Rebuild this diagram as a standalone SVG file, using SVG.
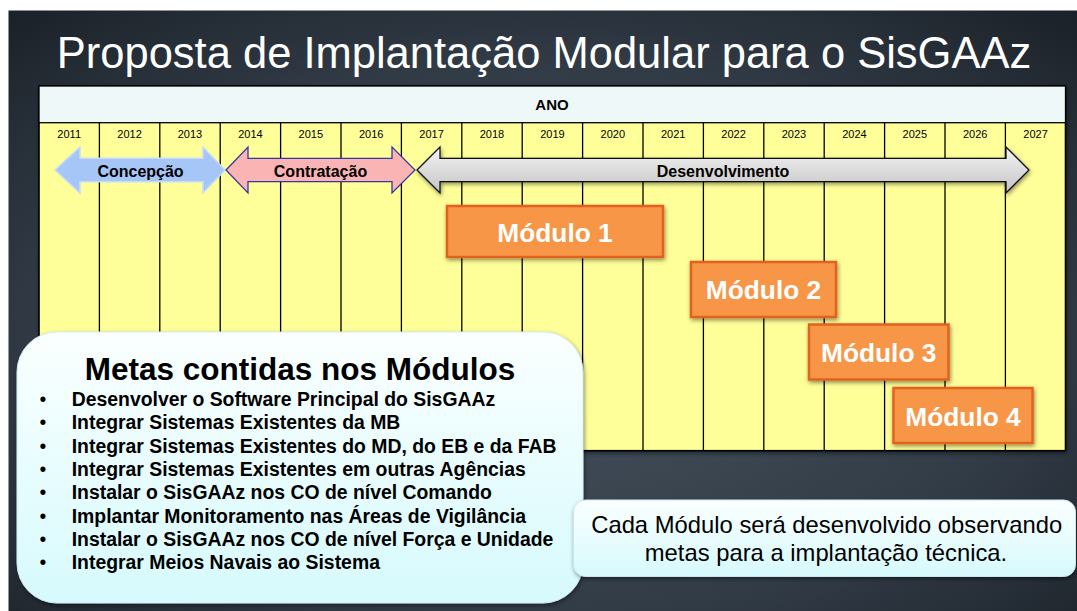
<svg xmlns="http://www.w3.org/2000/svg" width="1077" height="611" viewBox="0 0 1077 611">
<defs>
<radialGradient id="bg" cx="0.5" cy="0.55" r="0.75">
<stop offset="0" stop-color="#46525e"/>
<stop offset="0.6" stop-color="#323c47"/>
<stop offset="1" stop-color="#1a2027"/>
</radialGradient>
<linearGradient id="grayArrow" x1="0" y1="0" x2="0" y2="1">
<stop offset="0" stop-color="#f4f4f4"/>
<stop offset="1" stop-color="#c4c4c4"/>
</linearGradient>
<linearGradient id="boxFill" x1="0" y1="0" x2="0" y2="1">
<stop offset="0" stop-color="#fbffff"/>
<stop offset="1" stop-color="#d6fafd"/>
</linearGradient>
<filter id="shadow" x="-10%" y="-10%" width="120%" height="130%">
<feDropShadow dx="1" dy="2" stdDeviation="2" flood-color="#000" flood-opacity="0.45"/>
</filter>
</defs>
<style>
.title{font-family:"Liberation Sans",Arial,sans-serif;font-size:43.5px;fill:#ffffff}
.yr{font-family:"Liberation Sans",Arial,sans-serif;font-size:11px;fill:#000;text-anchor:middle}
.hdr{font-family:"Liberation Sans",Arial,sans-serif;font-size:15px;font-weight:bold;fill:#000;text-anchor:middle}
.arr{font-family:"Liberation Sans",Arial,sans-serif;font-size:16px;font-weight:bold;fill:#000;text-anchor:middle}
.mod rect{fill:#f79646;stroke:#e2621f;stroke-width:2.5}
.mod text{font-family:"Liberation Sans",Arial,sans-serif;font-size:26.3px;font-weight:bold;fill:#fff;text-anchor:middle}
.col{stroke:#000;stroke-width:1.3}
.mt{font-family:"Liberation Sans",Arial,sans-serif;font-size:31.5px;font-weight:bold;fill:#000;text-anchor:middle}
.li{font-family:"Liberation Sans",Arial,sans-serif;font-size:19.4px;font-weight:bold;fill:#000}
.bu{font-family:"Liberation Sans",Arial,sans-serif;font-size:19.4px;fill:#000}
.note{font-family:"Liberation Sans",Arial,sans-serif;font-size:23.8px;fill:#000;text-anchor:middle}
</style>
<rect x="0" y="0" width="1077" height="611" fill="#ffffff"/>
<rect x="8.5" y="10.5" width="1068.5" height="600.5" fill="url(#bg)"/>
<text class="title" x="544" y="68" text-anchor="middle">Proposta de Implantação Modular para o SisGAAz</text>

<g id="table">
<rect x="39" y="86" width="1026.5" height="364.7" fill="#ffff99" stroke="#000" stroke-width="1.6" filter="url(#shadow)"/>
<rect x="39" y="86" width="1026.5" height="36.7" fill="#eef8f8" stroke="#000" stroke-width="1.3"/>
<text class="hdr" x="552" y="110">ANO</text>
<g class="col">
<line x1="99.4" y1="122.7" x2="99.4" y2="450.7"/>
<line x1="159.8" y1="122.7" x2="159.8" y2="450.7"/>
<line x1="220.2" y1="122.7" x2="220.2" y2="450.7"/>
<line x1="280.6" y1="122.7" x2="280.6" y2="450.7"/>
<line x1="341" y1="122.7" x2="341" y2="450.7"/>
<line x1="401.4" y1="122.7" x2="401.4" y2="450.7"/>
<line x1="461.8" y1="122.7" x2="461.8" y2="450.7"/>
<line x1="522.2" y1="122.7" x2="522.2" y2="450.7"/>
<line x1="582.6" y1="122.7" x2="582.6" y2="450.7"/>
<line x1="643" y1="122.7" x2="643" y2="450.7"/>
<line x1="703.4" y1="122.7" x2="703.4" y2="450.7"/>
<line x1="763.8" y1="122.7" x2="763.8" y2="450.7"/>
<line x1="824.2" y1="122.7" x2="824.2" y2="450.7"/>
<line x1="884.6" y1="122.7" x2="884.6" y2="450.7"/>
<line x1="945" y1="122.7" x2="945" y2="450.7"/>
<line x1="1005.4" y1="122.7" x2="1005.4" y2="450.7"/>
</g>
<text class="yr" x="69.2" y="138">2011</text>
<text class="yr" x="129.6" y="138">2012</text>
<text class="yr" x="190" y="138">2013</text>
<text class="yr" x="250.4" y="138">2014</text>
<text class="yr" x="310.8" y="138">2015</text>
<text class="yr" x="371.2" y="138">2016</text>
<text class="yr" x="431.6" y="138">2017</text>
<text class="yr" x="492" y="138">2018</text>
<text class="yr" x="552.4" y="138">2019</text>
<text class="yr" x="612.8" y="138">2020</text>
<text class="yr" x="673.2" y="138">2021</text>
<text class="yr" x="733.6" y="138">2022</text>
<text class="yr" x="794" y="138">2023</text>
<text class="yr" x="854.4" y="138">2024</text>
<text class="yr" x="914.8" y="138">2025</text>
<text class="yr" x="975.2" y="138">2026</text>
<text class="yr" x="1035.6" y="138">2027</text>
</g>

<g id="connectors">
<g id="concepcao">
<polygon points="55,170 80,147 80,158.3 203,158.3 203,147 225,170 203,193 203,181.7 80,181.7 80,193" fill="#a6c6f8" stroke="#c6dcfa" stroke-width="1.5"/>
<text class="arr" x="140.5" y="177">Concepção</text>
</g>
<g id="contratacao">
<polygon points="226,170 248,147 248,158.3 392,158.3 392,147 415,170 392,193 392,181.7 248,181.7 248,193" fill="#fbb4b4" stroke="#3636a0" stroke-width="1.3"/>
<text class="arr" x="320.5" y="177">Contratação</text>
</g>
<g id="desenvolvimento">
<polygon points="417,170 440,147 440,158.3 1006,158.3 1006,147 1029,170 1006,193 1006,181.7 440,181.7 440,193" fill="url(#grayArrow)" stroke="#111" stroke-width="1.3" filter="url(#shadow)"/>
<text class="arr" x="723" y="176.7">Desenvolvimento</text>
</g>
</g>

<g id="modulo1" class="mod">
<rect x="447" y="206" width="216" height="51" stroke="#c5561d" filter="url(#shadow)"/>
<text x="555" y="241.5">Módulo 1</text>
</g>
<g id="modulo2" class="mod">
<rect x="691" y="262" width="145" height="55" filter="url(#shadow)"/>
<text x="763.5" y="298.5">Módulo 2</text>
</g>
<g id="modulo3" class="mod">
<rect x="809" y="324.5" width="139.5" height="55" filter="url(#shadow)"/>
<text x="878.7" y="361.5">Módulo 3</text>
</g>
<g id="modulo4" class="mod">
<rect x="893.5" y="388" width="139" height="55" filter="url(#shadow)"/>
<text x="963" y="425.5">Módulo 4</text>
</g>

<g id="metas">
<rect x="17" y="332" width="566" height="271" rx="40" ry="40" fill="url(#boxFill)" stroke="#d0eef2" stroke-width="1" filter="url(#shadow)"/>
<text class="mt" x="300" y="380">Metas contidas nos Módulos</text>
<text class="bu" x="39.5" y="406">•</text>
<text class="li" x="71.7" y="406">Desenvolver o Software Principal do SisGAAz</text>
<text class="bu" x="39.5" y="429.3">•</text>
<text class="li" x="71.7" y="429.3">Integrar Sistemas Existentes da MB</text>
<text class="bu" x="39.5" y="452.7">•</text>
<text class="li" x="71.7" y="452.7">Integrar Sistemas Existentes do MD, do EB e da FAB</text>
<text class="bu" x="39.5" y="476">•</text>
<text class="li" x="71.7" y="476">Integrar Sistemas Existentes em outras Agências</text>
<text class="bu" x="39.5" y="499.3">•</text>
<text class="li" x="71.7" y="499.3">Instalar o SisGAAz nos CO de nível Comando</text>
<text class="bu" x="39.5" y="522.7">•</text>
<text class="li" x="71.7" y="522.7">Implantar Monitoramento nas Áreas de Vigilância</text>
<text class="bu" x="39.5" y="546">•</text>
<text class="li" x="71.7" y="546">Instalar o SisGAAz nos CO de nível Força e Unidade</text>
<text class="bu" x="39.5" y="569.3">•</text>
<text class="li" x="71.7" y="569.3">Integrar Meios Navais ao Sistema</text>
</g>

<g id="nota">
<rect x="573.5" y="500" width="502" height="76.5" rx="12" ry="12" fill="url(#boxFill)" stroke="#c8e8ee" stroke-width="1" filter="url(#shadow)"/>
<text class="note" x="826.7" y="532.7">Cada Módulo será desenvolvido observando</text>
<text class="note" x="826" y="560.7">metas para a implantação técnica.</text>
</g>
</svg>
